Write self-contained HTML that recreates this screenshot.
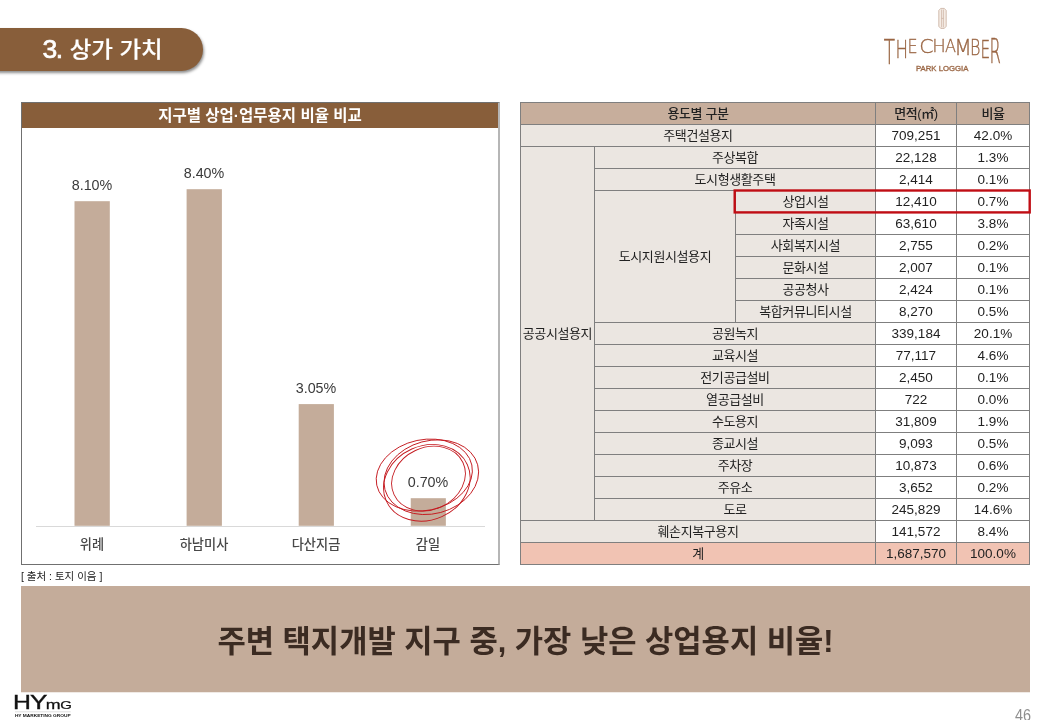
<!DOCTYPE html>
<html lang="ko">
<head>
<meta charset="utf-8">
<title>3. 상가 가치</title>
<style>
*{box-sizing:border-box;margin:0;padding:0}
html,body{width:1040px;height:720px;overflow:hidden;background:#fff}
body{position:relative;font-family:"Liberation Sans","Noto Sans CJK KR",sans-serif;color:#333}
.abs{position:absolute}
#pill{left:-10px;top:28px;width:212.5px;height:43px;background:#885e3a;border-radius:0 22px 22px 0;box-shadow:1px 2px 3px rgba(0,0,0,.45);color:#fff;font-family:'Liberation Sans','Noto Sans CJK KR',sans-serif;font-weight:500;-webkit-text-stroke:0.2px #fff;font-size:23.5px;line-height:43px;padding-left:52.6px;white-space:nowrap}
#pill b{position:absolute;left:52.6px;top:0;font-weight:400;font-size:26.5px;-webkit-text-stroke:0.7px #fff;line-height:43px;letter-spacing:-1.6px}
#pill span{position:absolute;left:79.7px;top:0;display:inline-block;transform:scaleY(.94);transform-origin:50% 50%}
#panel{left:21px;top:102px;width:479px;height:463px;border:1px solid #707070;border-right:2px solid #b6b6b6;background:#fff}
#phead{left:0;top:0;width:100%;height:24.5px;background:#885e3a;color:#fff;font-weight:700;font-size:15.5px;line-height:26px;text-align:center}
.bar{position:absolute;background:#c4ac9a;width:35px}
.val{position:absolute;width:80px;text-align:center;font-size:14.3px;color:#3a3a3a;line-height:16px}
.cat{position:absolute;width:100px;text-align:center;font-size:13.2px;font-weight:500;color:#484848;line-height:18px}
#axis{left:36px;top:525.5px;width:449px;height:1px;background:#d9d9d9}
#src{left:21px;top:568.6px;font-size:10.5px;line-height:14px;color:#222}
#banner{left:21px;top:586px;width:1009px;height:106px;background:#c4ac9a;box-shadow:0 0.5px 0 #e1d5cc;color:#3b2b22;font-weight:700;font-size:30.75px;line-height:111px;text-align:center}
#pg{left:1000px;top:706.7px;width:31px;text-align:right;font-size:16px;line-height:18px;color:#8e8e8e;transform:scaleX(.9);transform-origin:100% 50%}
table{position:absolute;left:520px;top:102px;border-collapse:collapse;table-layout:fixed;width:509px}
td{border:1px solid #7f7f7f;height:22px;padding:0;text-align:center;font-size:13.5px;line-height:20px;color:#222;white-space:nowrap;overflow:hidden}
td.l,tr.h td,tr.t td:first-child{font-size:13px;letter-spacing:-0.4px}
tr.h td{background:#c7ae9c;font-weight:500}
td.l{background:#ebe6e1}
tr.t td{background:#f1c3b3}
</style>
</head>
<body>
<div id="pill" class="abs"><b>3.</b> <span>상가 가치</span></div>

<div id="panel" class="abs"><div id="phead" class="abs">지구별 상업·업무용지 비율 비교</div></div>
<div id="axis" class="abs"></div>
<svg class="abs" style="left:0;top:180px" width="520" height="350" viewBox="0 180 520 350" fill="#c4ac9a">
<rect x="74.5" y="201.2" width="35.3" height="324.6"/>
<rect x="186.6" y="189.2" width="35.3" height="336.6"/>
<rect x="298.7" y="404.1" width="35.2" height="121.7"/>
<rect x="410.75" y="498.2" width="35.1" height="27.6"/>
</svg>
<div class="val" style="left:52px;top:177px">8.10%</div>
<div class="val" style="left:164px;top:165px">8.40%</div>
<div class="val" style="left:276px;top:380px">3.05%</div>
<div class="val" style="left:388px;top:474px">0.70%</div>
<div class="cat" style="left:42px;top:536px">위례</div>
<div class="cat" style="left:154px;top:536px">하남미사</div>
<div class="cat" style="left:266px;top:536px">다산지금</div>
<div class="cat" style="left:378px;top:536px">감일</div>
<svg class="abs" style="left:366px;top:425px" width="124" height="105" viewBox="366 425 124 105" fill="none" stroke="#c41a20" stroke-width="0.9">
<ellipse cx="424.3" cy="475.1" rx="48.6" ry="35.4" transform="rotate(-12 424.3 475.1)"/>
<ellipse cx="431.3" cy="477.2" rx="48" ry="36.5" transform="rotate(-15 431.3 477.2)"/>
<ellipse cx="428.5" cy="478.6" rx="38" ry="31" transform="rotate(-25 428.5 478.6)"/>
<ellipse cx="427" cy="482.8" rx="44.4" ry="37" transform="rotate(-24 427 483.2)"/>
</svg>
<div id="src" class="abs">[ 출처 : 토지 이음 ]</div>

<table>
<colgroup><col style="width:74px"><col style="width:141px"><col style="width:140px"><col style="width:81px"><col style="width:73px"></colgroup>
<tr class="h"><td colspan="3">용도별 구분</td><td>면적(㎡)</td><td>비율</td></tr>
<tr><td class="l" colspan="3">주택건설용지</td><td>709,251</td><td>42.0%</td></tr>
<tr><td class="l" rowspan="17">공공시설용지</td><td class="l" colspan="2">주상복합</td><td>22,128</td><td>1.3%</td></tr>
<tr><td class="l" colspan="2">도시형생활주택</td><td>2,414</td><td>0.1%</td></tr>
<tr><td class="l" rowspan="6">도시지원시설용지</td><td class="l">상업시설</td><td>12,410</td><td>0.7%</td></tr>
<tr><td class="l">자족시설</td><td>63,610</td><td>3.8%</td></tr>
<tr><td class="l">사회복지시설</td><td>2,755</td><td>0.2%</td></tr>
<tr><td class="l">문화시설</td><td>2,007</td><td>0.1%</td></tr>
<tr><td class="l">공공청사</td><td>2,424</td><td>0.1%</td></tr>
<tr><td class="l">복합커뮤니티시설</td><td>8,270</td><td>0.5%</td></tr>
<tr><td class="l" colspan="2">공원녹지</td><td>339,184</td><td>20.1%</td></tr>
<tr><td class="l" colspan="2">교육시설</td><td>77,117</td><td>4.6%</td></tr>
<tr><td class="l" colspan="2">전기공급설비</td><td>2,450</td><td>0.1%</td></tr>
<tr><td class="l" colspan="2">열공급설비</td><td>722</td><td>0.0%</td></tr>
<tr><td class="l" colspan="2">수도용지</td><td>31,809</td><td>1.9%</td></tr>
<tr><td class="l" colspan="2">종교시설</td><td>9,093</td><td>0.5%</td></tr>
<tr><td class="l" colspan="2">주차장</td><td>10,873</td><td>0.6%</td></tr>
<tr><td class="l" colspan="2">주유소</td><td>3,652</td><td>0.2%</td></tr>
<tr><td class="l" colspan="2">도로</td><td>245,829</td><td>14.6%</td></tr>
<tr><td class="l" colspan="3">훼손지복구용지</td><td>141,572</td><td>8.4%</td></tr>
<tr class="t"><td colspan="3">계</td><td>1,687,570</td><td>100.0%</td></tr>
</table>
<svg class="abs" style="left:725px;top:185px" width="315" height="34" viewBox="725 185 315 34"><rect x="734.7" y="190.5" width="295" height="21.9" fill="none" stroke="#c00d14" stroke-width="2.4"/></svg>

<div id="banner" class="abs">주변 택지개발 지구 중, 가장 낮은 상업용지 비율!</div>
<div id="pg" class="abs">46</div>
<svg class="abs" style="left:0;top:0" width="1040" height="720" viewBox="0 0 1040 720">
<g font-family="DejaVu Sans, sans-serif" font-weight="200" font-size="20" fill="#9a6644" stroke="#9a6644" stroke-width="0.3" vector-effect="non-scaling-stroke" style="vector-effect:non-scaling-stroke">
<text transform="matrix(0.921 0 0 1.664 883.83 63.60)">T</text>
<text transform="matrix(0.833 0 0 1.247 895.50 57.50)">H</text>
<text transform="matrix(0.798 0 0 0.932 907.39 52.90)">E</text>
<text transform="matrix(1.027 0 0 0.947 919.36 53.01)">C</text>
<text transform="matrix(0.902 0 0 0.856 932.14 51.80)">H</text>
<text transform="matrix(0.806 0 0 0.856 945.02 51.80)">A</text>
<text transform="matrix(1.019 0 0 1.041 954.24 54.50)">M</text>
<text transform="matrix(0.798 0 0 1.103 969.89 55.40)">B</text>
<text transform="matrix(0.762 0 0 1.247 980.57 57.50)">E</text>
<text transform="matrix(0.817 0 0 1.644 989.54 63.30)">R</text>
</g>
<text x="942.2" y="71.3" text-anchor="middle" font-family="Liberation Sans, sans-serif" font-weight="400" font-size="7.4" fill="#9a6644" stroke="#9a6644" stroke-width="0.3" textLength="52.5" lengthAdjust="spacingAndGlyphs">PARK LOGGIA</text>
<g fill="#f5ece5" stroke="#c2a592" stroke-width="0.7">
<path d="M940.7 8.4h3.6l1.9 2.1v15.8l-1.9 2.1h-3.6l-1.9-2.1v-15.8z"/>
<path d="M941.6 9.5v17.8M943.4 9.5v17.8M941.6 18.4h1.8" fill="none" stroke-width="0.6"/>
</g>
<g font-family="Liberation Sans, sans-serif" font-size="18" fill="#111" stroke="#111" stroke-width="0.35">
<text transform="matrix(1.379 0 0 1.087 12.91 708.70)">H</text>
<text transform="matrix(1.448 0 0 1.087 30.12 708.70)">Y</text>
<text transform="matrix(0.992 0 0 0.751 45.85 708.70)">m</text>
<text transform="matrix(0.829 0 0 0.571 60.25 708.60)">G</text>
</g>
<path d="M15 711.8H70.7" stroke="#d8d8d8" stroke-width="0.8"/>
<text x="14.9" y="716.7" font-family="Liberation Sans, sans-serif" font-weight="700" font-size="3.5" fill="#111" textLength="55.8" lengthAdjust="spacingAndGlyphs">HY MARKETING GROUP</text>
</svg>

</body>
</html>
